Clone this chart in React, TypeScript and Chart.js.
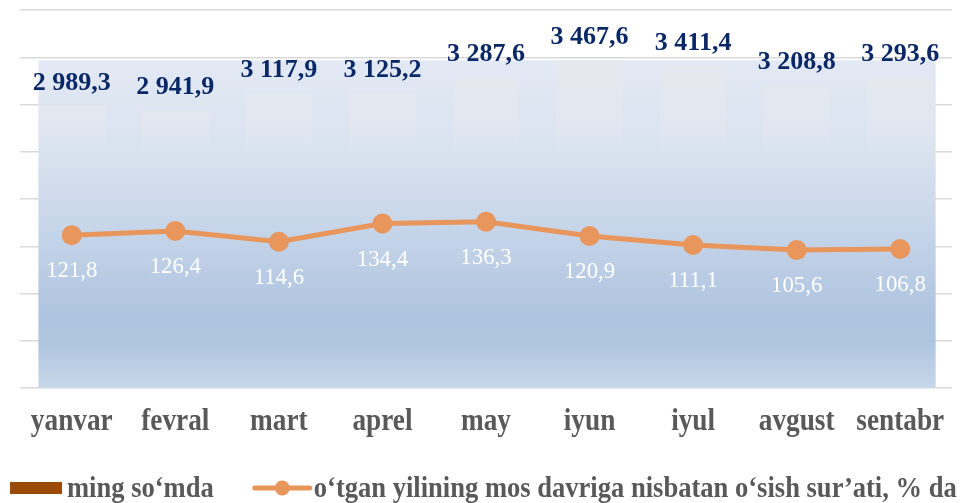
import React, { useEffect, useRef } from "react";
import { Chart, registerables } from "chart.js";

Chart.register(...registerables);

const months = ["yanvar", "fevral", "mart", "aprel", "may", "iyun", "iyul", "avgust", "sentabr"];
const amountValues = [2989.3, 2941.9, 3117.9, 3125.2, 3287.6, 3467.6, 3411.4, 3208.8, 3293.6];
const growthValues = [121.8, 126.4, 114.6, 134.4, 136.3, 120.9, 111.1, 105.6, 106.8];
const amountLabel = "ming so‘mda";
const growthLabel = "o‘tgan yilining mos davriga nisbatan o‘sish sur’ati, % da";

const FONT = "'Liberation Serif', 'Times New Roman', serif";
const ORANGE = "#e8965c";
const BROWN = "#9c4a0a";
const NAVY = "#0b2866";
const GREY_TEXT = "#595959";

function fmt(v: number): string {
  const [i, d] = v.toFixed(1).split(".");
  return i.replace(/\B(?=(\d{3})+(?!\d))/g, " ") + "," + d;
}

// draws text squeezed horizontally by sx, anchored at (x, y)
function drawText(ctx: CanvasRenderingContext2D, text: string, x: number, y: number, sx: number) {
  ctx.save();
  ctx.translate(x, y);
  ctx.scale(sx, 1);
  ctx.fillText(text, 0, 0);
  ctx.restore();
}

const plotFillPlugin = {
  id: "plotFill",
  beforeDatasetsDraw(chart: any) {
    const { ctx, chartArea, scales } = chart;
    const barMeta = chart.getDatasetMeta(1);
    const first = barMeta.data[0];
    const last = barMeta.data[barMeta.data.length - 1];
    if (!first || !last) return;
    const left = first.x - first.width / 2;
    const right = last.x + last.width / 2 + 2;
    const top = scales.y.getPixelForValue(Math.max(...amountValues));
    const bottom = chartArea.bottom;
    const g = ctx.createLinearGradient(0, top, 0, bottom);
    g.addColorStop(0, "#e2e9f4");
    g.addColorStop(0.3, "#d8e2ef");
    g.addColorStop(0.55, "#c3d3e8");
    g.addColorStop(0.78, "#afc4e0");
    g.addColorStop(0.86, "#afc5e0");
    g.addColorStop(1, "#c8d7e9");
    ctx.save();
    ctx.fillStyle = g;
    ctx.fillRect(left, top, right - left, bottom - top);
    ctx.restore();
  },
};

const valueLabelPlugin = {
  id: "valueLabels",
  afterDatasetsDraw(chart: any) {
    const { ctx } = chart;
    ctx.save();
    ctx.textAlign = "center";
    const barMeta = chart.getDatasetMeta(1);
    ctx.fillStyle = NAVY;
    ctx.font = `bold 26px ${FONT}`;
    ctx.textBaseline = "alphabetic";
    barMeta.data.forEach((el: any, i: number) => {
      drawText(ctx, fmt(amountValues[i]), el.x, el.y - 16, 1);
    });
    const lineMeta = chart.getDatasetMeta(0);
    ctx.fillStyle = "#ffffff";
    ctx.font = `24px ${FONT}`;
    ctx.textBaseline = "middle";
    lineMeta.data.forEach((el: any, i: number) => {
      drawText(ctx, fmt(growthValues[i]), el.x, el.y + 36, 0.95);
    });
    ctx.restore();
  },
};

const axisLabelPlugin = {
  id: "axisLabels",
  afterDraw(chart: any) {
    const { ctx, scales } = chart;
    const xs = scales.x;
    ctx.save();
    ctx.fillStyle = GREY_TEXT;
    ctx.font = `bold 31px ${FONT}`;
    ctx.textAlign = "center";
    ctx.textBaseline = "alphabetic";
    const labels: string[] = chart.data.labels;
    labels.forEach((lab, i) => {
      drawText(ctx, lab, xs.getPixelForTick(i), xs.top + 42, 0.88);
    });
    ctx.restore();
  },
};

const legendPlugin = {
  id: "customLegend",
  afterDraw(chart: any) {
    const { ctx } = chart;
    const cy = 488;
    const base = 497;
    const sx = 0.885;
    ctx.save();
    ctx.font = `bold 30px ${FONT}`;
    ctx.textBaseline = "alphabetic";
    ctx.textAlign = "left";
    let x = 10;
    ctx.fillStyle = BROWN;
    ctx.fillRect(x, cy - 6, 52, 12);
    x += 57;
    ctx.fillStyle = GREY_TEXT;
    drawText(ctx, amountLabel, x, base, sx);
    x += ctx.measureText(amountLabel).width * sx + 41;
    ctx.strokeStyle = ORANGE;
    ctx.lineWidth = 5;
    ctx.lineCap = "round";
    ctx.beginPath();
    ctx.moveTo(x, cy);
    ctx.lineTo(x + 55, cy);
    ctx.stroke();
    ctx.fillStyle = ORANGE;
    ctx.beginPath();
    ctx.arc(x + 27.5, cy, 7.5, 0, Math.PI * 2);
    ctx.fill();
    x += 59;
    ctx.fillStyle = GREY_TEXT;
    drawText(ctx, growthLabel, x, base, sx);
    ctx.restore();
  },
};

function barFade(c: any, a0: number) {
  const chart = c.chart;
  const { ctx, chartArea, scales } = chart;
  if (!chartArea || !scales.y) return "rgba(0,0,0,0)";
  const top = scales.y.getPixelForValue(Math.max(...amountValues));
  const g = ctx.createLinearGradient(0, top, 0, top + 90);
  g.addColorStop(0, `rgba(232,232,234,${a0})`);
  g.addColorStop(0.6, `rgba(232,233,238,${a0 * 0.85})`);
  g.addColorStop(0.85, `rgba(232,236,242,${a0 * 0.45})`);
  g.addColorStop(1, "rgba(232,236,245,0)");
  return g;
}

export default function App() {
  const ref = useRef<HTMLCanvasElement>(null);
  useEffect(() => {
    const canvas = ref.current;
    if (!canvas) return;
    const chart = new Chart(canvas, {
      type: "bar",
      data: {
        labels: months,
        datasets: [
          {
            type: "line",
            label: growthLabel,
            data: growthValues,
            yAxisID: "y1",
            borderColor: ORANGE,
            backgroundColor: ORANGE,
            borderWidth: 5,
            pointRadius: 10,
            pointHoverRadius: 10,
            pointBackgroundColor: ORANGE,
            pointBorderWidth: 0,
            tension: 0,
            order: 0,
          } as any,
          {
            type: "bar",
            label: amountLabel,
            data: amountValues,
            yAxisID: "y",
            backgroundColor: (c: any) => barFade(c, 0.6),
            borderColor: (c: any) => barFade(c, 0.9),
            borderWidth: 1,
            categoryPercentage: 1,
            barPercentage: 0.645,
            order: 1,
          } as any,
        ],
      },
      options: {
        responsive: false,
        animation: false,
        devicePixelRatio: 1,
        layout: { padding: { left: 20, right: 6, top: 10, bottom: 0 } },
        plugins: { legend: { display: false }, tooltip: { enabled: false } },
        scales: {
          x: {
            grid: { display: false, drawTicks: false },
            border: { display: false },
            ticks: { display: false, autoSkip: false },
            afterFit: (s: any) => {
              s.height = 115;
            },
          },
          y: {
            min: 0,
            max: 4000,
            ticks: { display: false, stepSize: 500 },
            grid: { color: "#d9d9d9", lineWidth: 1.5, drawTicks: false },
            border: { display: false },
            afterFit: (s: any) => {
              s.width = 0;
            },
          },
          y1: { display: false, min: -44, max: 366 },
        },
      } as any,
      plugins: [plotFillPlugin, valueLabelPlugin, axisLabelPlugin, legendPlugin],
    });
    return () => chart.destroy();
  }, []);
  return (
    <div style={{ position: "fixed", left: 0, top: 0, width: 962, height: 503, background: "#ffffff" }}>
      <canvas ref={ref} width={962} height={503} style={{ display: "block" }} />
    </div>
  );
}
